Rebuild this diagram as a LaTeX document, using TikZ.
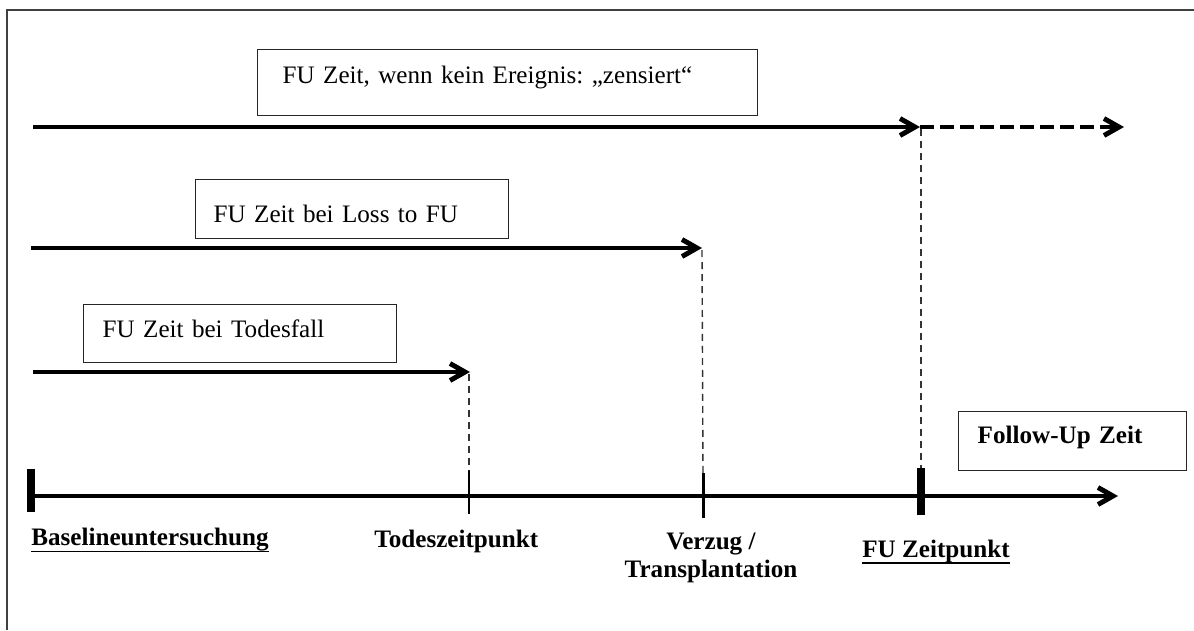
\documentclass[tikz,border=0pt]{standalone}
\usepackage{fontspec}
\setmainfont{Liberation Serif}
\usetikzlibrary{arrows.meta}
\frenchspacing
\begin{document}
\begin{tikzpicture}[x=0.02cm,y=-0.02cm,
  fnt/.style={font=\fontsize{14.3}{15.4}\selectfont},
  lbl/.style={fnt, inner sep=0pt, anchor=base west},
  blbl/.style={lbl, font=\fontsize{14.3}{15.4}\selectfont\bfseries},
  tbox/.style={fnt, draw=black!85, line width=0.8pt, anchor=north west, align=left, inner ysep=0pt},
  arr/.style={line width=2.8pt, -{Straight Barb[length=0.3cm,width=0.34cm]}},
  dasharr/.style={arr, dash pattern=on 0.28cm off 0.12cm},
  guide/.style={line width=0.8pt, black!80, dash pattern=on 0.14cm off 0.1cm},
  thicktick/.style={line width=4pt},
  thintick/.style={line width=1.7pt},
  frame/.style={line width=1.1pt, black!75},
  uline/.style={line width=0.8pt}
]
\useasboundingbox (0,0) rectangle (1194,630);

% frame
\coordinate (fbl) at (7,630);
\coordinate (ftl) at (7,10);
\coordinate (ftr) at (1194,10);
\draw[frame] (fbl) -- (ftl) -- (ftr);

% text boxes
\node[tbox, inner xsep=0.5cm, text width=9cm, text height=0.68cm, text depth=0.64cm] (b1) at (257,49)
  {FU Zeit, wenn kein Ereignis: „zensiert“};
\node[tbox, inner xsep=0.36cm, text width=5.54cm, text height=0.86cm, text depth=0.32cm] (b2) at (195,179)
  {FU Zeit bei Loss to FU};
\node[tbox, inner xsep=0.38cm, text width=5.5cm, text height=0.66cm, text depth=0.5cm] (b3) at (83,304)
  {FU Zeit bei Todesfall};
\node[tbox, inner xsep=0.38cm, text width=3.8cm, text height=0.64cm, text depth=0.54cm, font=\fontsize{14.3}{15.4}\selectfont\bfseries] (b4) at (958,411)
  {Follow-Up Zeit};

% arrow coordinates
\coordinate (a1s) at (33,127);
\coordinate (a1e) at (920,127);
\coordinate (a1d) at (1124,127);
\coordinate (a2s) at (31,248);
\coordinate (a2e) at (702,248);
\coordinate (a3s) at (33,372);
\coordinate (a3e) at (470,372);

\draw[arr] (a1s) -- (a1e);
\draw[dasharr] (a1e) -- (a1d);
\draw[arr] (a2s) -- (a2e);
\draw[arr] (a3s) -- (a3e);

% time axis
\coordinate (axs) at (31,496);
\coordinate (axe) at (1118,496);
\draw[arr] (axs) -- (axe);

% ticks
\coordinate (t0a) at (31,469);  \coordinate (t0b) at (31,512);
\coordinate (t1a) at (469,470); \coordinate (t1b) at (469,514);
\coordinate (t2a) at (703,473); \coordinate (t2b) at (703,518);
\coordinate (t3a) at (921,468); \coordinate (t3b) at (921,515);
\draw[thicktick] (t0a) -- (t0b);
\draw[thintick] (t1a) -- (t1b);
\draw[thintick] (t2a) -- (t2b);
\draw[thicktick] (t3a) -- (t3b);

% dashed guides
\coordinate (g3) at (921,129);
\coordinate (g2) at (702,250);
\coordinate (g1) at (469,374);
\draw[guide] (g3) -- (t3a);
\draw[guide] (g2) -- (t2a);
\draw[guide] (g1) -- (t1a);

% axis labels
\node[blbl] (l0) at (31,545) {Baselineuntersuchung};
\node[blbl] (l1) at (374,547) {Todeszeitpunkt};
\node[blbl, align=center, anchor=base] (l2) at (711,577) {Verzug /\\Transplantation};
\node[blbl] (l3) at (862,557) {FU Zeitpunkt};
\draw[uline] ([yshift=-3.7pt]l0.base west) -- ([yshift=-3.7pt]l0.base east);
\draw[uline] ([yshift=-3.3pt]l3.base west) -- ([yshift=-3.3pt]l3.base east);
\end{tikzpicture}
\end{document}
